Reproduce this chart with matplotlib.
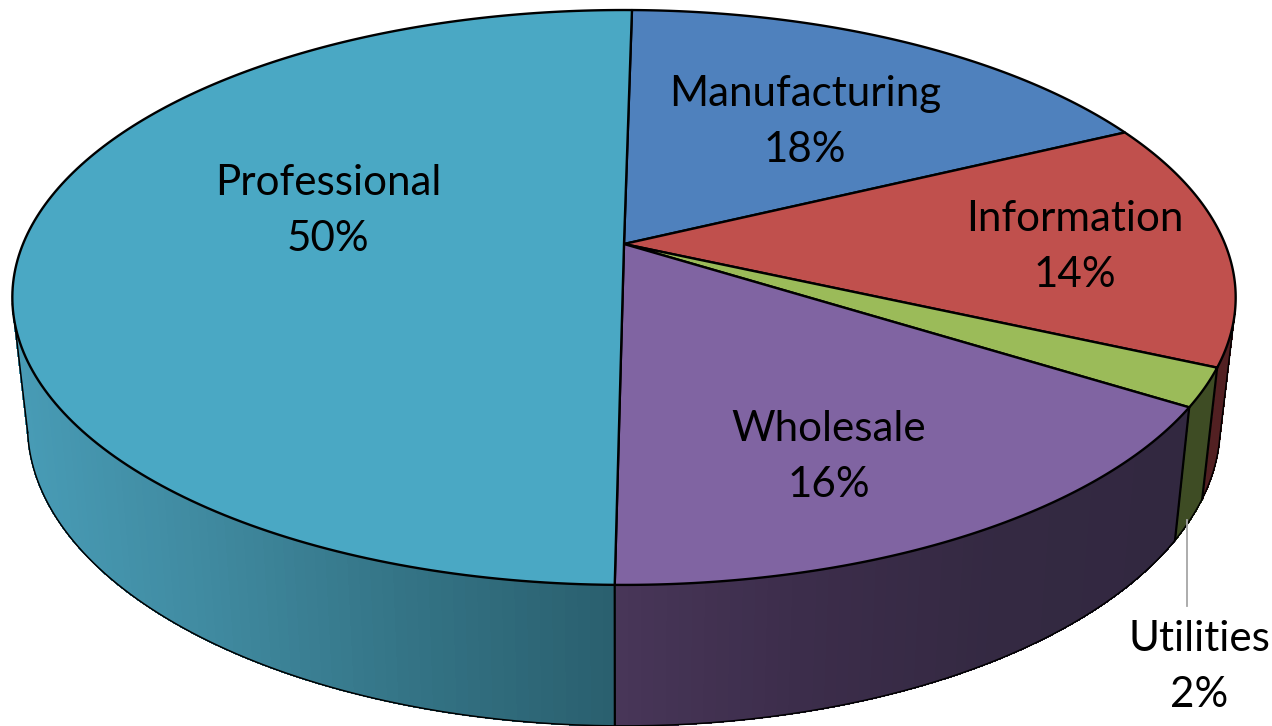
import numpy as np
import matplotlib
matplotlib.use('Agg')
import matplotlib.pyplot as plt

# slices, clockwise from the top of the pie
names = ['Manufacturing', 'Information', 'Utilities', 'Wholesale', 'Professional']
shares = [17.6, 13.9, 2.15, 16.3, 50.05]
percent_labels = ['18%', '14%', '2%', '16%', '50%']
top_colors = ['#4F81BD', '#C0504D', '#9BBB59', '#8064A2', '#4AA8C4']
label_xy = [(805, 122), (1075, 247), (1199, 667), (829, 457), (328, 211)]

# side wall colours, (x pixel, rgb) stops
wall_stops = {
    'Manufacturing': ([0, 1272], [(60, 90, 130), (60, 90, 130)]),
    'Information': ([0, 1272], [(82, 32, 34), (82, 32, 34)]),
    'Utilities': ([0, 1272], [(62, 76, 36), (62, 76, 36)]),
    'Wholesale': ([615, 800, 1000, 1180], [(72, 54, 88), (60, 45, 75), (52, 41, 66), (50, 40, 64)]),
    'Professional': ([10, 200, 400, 615], [(72, 156, 182), (64, 138, 160), (52, 116, 134), (42, 95, 110)]),
}

# perspective of the pie
x0, y0 = 624, 244
A, B, k = 601, 277.5, 0.186
start = 0.9
side_from, side_to = 103, 258


def top_rim(theta):
    t = np.radians(theta)
    u, v = np.sin(t), np.cos(t)
    return x0 + A * u / (1 + k * v), y0 - B * v / (1 + k * v)


def low_rim(theta):
    x, y = top_rim(theta)
    return 620 + (x - 620) * 0.975, y + 133 + (y - 407) * 0.045


plt.rcParams['font.family'] = ['Lato', 'DejaVu Sans']
fig = plt.figure(figsize=(12.72, 7.26), dpi=100)
ax = fig.add_axes([0, 0, 1, 1])
ax.set_xlim(0, 1272)
ax.set_ylim(726, 0)
ax.axis('off')

edges = start + np.cumsum([0] + shares) * 3.6

# side wall
for i, name in enumerate(names):
    a, b = max(edges[i], side_from), min(edges[i + 1], side_to)
    if b <= a:
        continue
    steps = np.linspace(a, b, int(b - a) + 2)
    xs_stop, cols = wall_stops[name]
    cols = np.array(cols) / 255
    for t1, t2 in zip(steps[:-1], steps[1:]):
        tx1, ty1 = top_rim(t1)
        tx2, ty2 = top_rim(t2)
        lx1, ly1 = low_rim(t1)
        lx2, ly2 = low_rim(t2)
        mid = (tx1 + tx2) / 2
        c = [np.interp(mid, xs_stop, cols[:, j]) for j in range(3)]
        # no antialias here, otherwise the strips show seams
        ax.fill([tx1, tx2, lx2, lx1], [ty1, ty2, ly2, ly1], color=c, lw=0.5, antialiased=False, zorder=1)

# outline of the wall
ts = np.linspace(side_from, side_to, 300)
lx, ly = low_rim(ts)
ax.plot(lx, ly, color='black', lw=1.1, zorder=2)
for t in [side_from, side_to]:
    tx, ty = top_rim(t)
    bx, by = low_rim(t)
    ax.plot([tx, bx], [ty, by], color='black', lw=1.1, zorder=2)
for e in edges[1:-1]:
    if side_from < e < side_to:
        tx, ty = top_rim(e)
        bx, by = low_rim(e)
        ax.plot([tx, bx], [ty, by], color='black', lw=1.6, zorder=2)

# top face
for i in range(len(names)):
    ts = np.linspace(edges[i], edges[i + 1], 200)
    rx, ry = top_rim(ts)
    ax.fill(np.r_[x0, rx], np.r_[y0, ry], facecolor=top_colors[i], edgecolor='black',
            lw=1.7, joinstyle='round', zorder=3)

# leader line for the small slice
ax.plot([1187, 1187], [520, 606], color='#A6A6A6', lw=1.3, zorder=4)

for i in range(len(names)):
    ax.text(label_xy[i][0], label_xy[i][1], names[i] + '\n' + percent_labels[i],
            ha='center', va='center', fontsize=30.3, linespacing=1.55, color='black', zorder=5)

fig.savefig('out.png', dpi=100, facecolor='white')
